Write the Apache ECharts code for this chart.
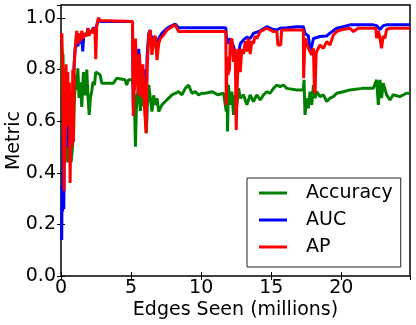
<!DOCTYPE html>
<html><head><meta charset="utf-8">
<script src="https://cdn.jsdelivr.net/npm/echarts@6/dist/echarts.min.js"></script>
<style>html,body{margin:0;padding:0;background:#fff}#c{width:416px;height:325px}</style>
</head><body><div id="c"></div>
<script>
const seriesNames = ['Accuracy', 'AUC', 'AP'];
const xTicks = [0, 5, 10, 15, 20];
const yTicks = [0.0, 0.2, 0.4, 0.6, 0.8, 1.0];

const accuracyData = [[0.02,0.80],[0.06,0.88],[0.10,0.70],[0.14,0.86],[0.20,0.66],[0.26,0.55],[0.35,0.47],[0.42,0.60],[0.49,0.44],[0.58,0.55],[0.65,0.60],[0.72,0.44],[0.82,0.50],[0.89,0.55],[0.94,0.66],[1.01,0.74],[1.08,0.78],[1.13,0.72],[1.20,0.805],[1.29,0.69],[1.39,0.75],[1.48,0.655],[1.60,0.79],[1.72,0.70],[1.84,0.80],[1.91,0.71],[2.01,0.624],[2.10,0.69],[2.20,0.72],[2.29,0.753],[2.39,0.74],[2.48,0.79],[2.62,0.79],[2.79,0.78],[2.91,0.747],[3.26,0.747],[3.74,0.747],[3.97,0.766],[4.10,0.76],[4.57,0.76],[4.69,0.74],[4.81,0.76],[5.09,0.76],[5.16,0.73],[5.23,0.70],[5.31,0.501],[5.38,0.65],[5.43,0.69],[5.54,0.74],[5.66,0.64],[5.78,0.70],[5.90,0.66],[6.02,0.75],[6.09,0.553],[6.20,0.72],[6.26,0.74],[6.37,0.69],[6.49,0.637],[6.61,0.70],[6.73,0.663],[6.85,0.689],[6.97,0.637],[7.20,0.663],[7.44,0.676],[7.68,0.689],[7.92,0.702],[8.15,0.708],[8.39,0.714],[8.63,0.702],[8.87,0.727],[9.10,0.74],[9.34,0.708],[9.58,0.714],[9.82,0.702],[10.05,0.708],[10.29,0.708],[10.8,0.714],[11.2,0.702],[11.6,0.708],[11.79,0.637],[11.84,0.75],[11.88,0.56],[11.95,0.74],[12.07,0.663],[12.19,0.714],[12.31,0.624],[12.43,0.702],[12.55,0.663],[12.67,0.727],[12.79,0.689],[13.02,0.702],[13.26,0.663],[13.50,0.702],[13.73,0.676],[13.97,0.702],[14.21,0.682],[14.45,0.702],[14.68,0.714],[14.92,0.708],[15.16,0.727],[15.40,0.740],[15.63,0.734],[15.87,0.740],[16.11,0.727],[16.82,0.721],[17.29,0.721],[17.34,0.76],[17.41,0.624],[17.53,0.689],[17.65,0.65],[17.77,0.714],[17.89,0.663],[18.01,0.74],[18.13,0.689],[18.24,0.714],[18.48,0.695],[18.72,0.702],[18.96,0.676],[19.19,0.689],[19.43,0.695],[19.67,0.708],[20.14,0.714],[20.62,0.721],[21.5,0.727],[22.28,0.727],[22.52,0.76],[22.64,0.663],[22.76,0.76],[22.87,0.689],[22.99,0.747],[23.23,0.702],[23.47,0.682],[23.70,0.702],[24.18,0.695],[24.65,0.708],[24.89,0.708]];

const aucData = [[0.02,0.15],[0.05,0.14],[0.08,0.35],[0.12,0.25],[0.16,0.55],[0.20,0.26],[0.26,0.70],[0.32,0.50],[0.40,0.72],[0.48,0.60],[0.55,0.50],[0.62,0.70],[0.70,0.55],[0.78,0.60],[0.84,0.52],[0.90,0.78],[0.96,0.84],[1.01,0.88],[1.13,0.90],[1.20,0.89],[1.29,0.92],[1.39,0.90],[1.48,0.93],[1.55,0.87],[1.62,0.93],[1.72,0.94],[1.84,0.93],[1.91,0.96],[2.01,0.94],[2.20,0.95],[2.29,0.96],[2.48,0.96],[2.67,0.99],[2.91,0.986],[5.10,0.986],[5.16,0.65],[5.26,0.85],[5.43,0.80],[5.54,0.88],[5.66,0.80],[5.78,0.74],[5.90,0.80],[6.02,0.65],[6.07,0.60],[6.14,0.85],[6.26,0.94],[6.37,0.953],[6.49,0.88],[6.61,0.93],[6.85,0.87],[6.97,0.92],[7.20,0.94],[7.56,0.96],[7.92,0.97],[8.15,0.976],[8.39,0.962],[11.76,0.962],[11.79,0.93],[11.95,0.90],[12.07,0.92],[12.31,0.89],[12.50,0.84],[12.59,0.81],[12.67,0.86],[12.79,0.90],[13.02,0.915],[13.26,0.925],[13.50,0.92],[13.73,0.94],[13.97,0.945],[14.21,0.95],[14.68,0.966],[15.16,0.955],[15.40,0.953],[15.63,0.96],[16.11,0.962],[16.82,0.966],[17.29,0.966],[17.41,0.94],[17.65,0.93],[17.77,0.87],[17.89,0.89],[18.01,0.92],[18.13,0.921],[18.48,0.928],[18.96,0.93],[19.19,0.941],[19.67,0.96],[20.14,0.966],[20.62,0.973],[22.28,0.973],[22.52,0.97],[22.76,0.955],[22.99,0.97],[23.23,0.973],[24.89,0.973]];

const apData = [[0.02,0.93],[0.06,0.94],[0.12,0.80],[0.18,0.55],[0.22,0.33],[0.26,0.72],[0.30,0.44],[0.36,0.82],[0.42,0.62],[0.48,0.79],[0.54,0.58],[0.60,0.75],[0.65,0.36],[0.72,0.66],[0.78,0.50],[0.84,0.80],[0.89,0.52],[0.94,0.82],[1.01,0.88],[1.06,0.92],[1.13,0.95],[1.20,0.90],[1.29,0.94],[1.39,0.91],[1.48,0.95],[1.60,0.92],[1.72,0.94],[1.84,0.93],[1.91,0.96],[2.01,0.93],[2.10,0.95],[2.20,0.94],[2.29,0.96],[2.42,0.95],[2.48,0.84],[2.55,0.97],[2.67,1.0],[2.79,0.99],[2.91,0.986],[5.10,0.986],[5.16,0.62],[5.21,0.85],[5.26,0.72],[5.31,0.92],[5.40,0.80],[5.54,0.70],[5.60,0.86],[5.66,0.74],[5.78,0.69],[5.84,0.82],[5.90,0.75],[5.96,0.65],[6.07,0.553],[6.14,0.80],[6.26,0.934],[6.37,0.953],[6.49,0.857],[6.61,0.92],[6.73,0.93],[6.85,0.837],[6.97,0.90],[7.09,0.92],[7.32,0.934],[7.56,0.953],[7.92,0.966],[8.15,0.973],[8.39,0.947],[11.76,0.947],[11.79,0.663],[11.84,0.85],[11.90,0.78],[12.02,0.80],[12.07,0.90],[12.19,0.92],[12.31,0.83],[12.43,0.88],[12.50,0.566],[12.58,0.75],[12.67,0.88],[12.79,0.79],[12.90,0.88],[13.02,0.86],[13.15,0.91],[13.26,0.87],[13.38,0.92],[13.50,0.86],[13.62,0.91],[13.73,0.90],[13.85,0.93],[13.97,0.92],[14.21,0.947],[14.68,0.96],[15.16,0.947],[15.40,0.947],[15.48,0.895],[15.68,0.895],[15.74,0.953],[17.29,0.953],[17.31,0.766],[17.41,0.921],[17.53,0.90],[17.65,0.882],[17.77,0.87],[17.89,0.857],[18.01,0.882],[18.08,0.72],[18.13,0.708],[18.20,0.857],[18.24,0.87],[18.48,0.895],[18.72,0.882],[18.96,0.908],[19.19,0.895],[19.43,0.934],[19.67,0.947],[19.91,0.953],[20.62,0.96],[20.86,0.947],[21.2,0.96],[22.46,0.96],[22.52,0.921],[22.64,0.95],[22.76,0.92],[22.87,0.882],[22.99,0.93],[23.11,0.921],[23.23,0.955],[23.47,0.96],[24.89,0.96]];

const colors = ['#008000', '#0000ff', '#ff0000'];
const FONT = 'DejaVu Sans';
const FS = 19;

const chart = echarts.init(document.getElementById('c'), null, {renderer: 'canvas'});
const isTick = (v, list) => list.some(t => Math.abs(t - v) < 1e-6);

const tickCommon = {show: true, inside: true, length: 4, lineStyle: {color: '#000', width: 1}};

chart.setOption({
  animation: false,
  backgroundColor: '#fff',
  grid: {left: 61, right: 6, top: 5, bottom: 49, containLabel: false, outerBoundsMode: 'none', show: true, borderColor: '#000', borderWidth: 1.5, backgroundColor: 'transparent'},
  textStyle: {fontFamily: FONT},
  legend: {
    data: seriesNames.map(n => ({name: n, icon: 'rect'})),
    orient: 'vertical',
    left: 247, top: 178,
    padding: [5, 8, 10, 12],
    itemWidth: 28, itemHeight: 3, itemGap: 7,
    borderColor: '#222', borderWidth: 1,
    backgroundColor: '#fff',
    textStyle: {fontFamily: FONT, fontSize: FS, color: '#000', padding: [0, 0, 0, 14], lineHeight: 20},
    selectedMode: false
  },
  xAxis: [{
    type: 'value', min: 0, max: 24.9, interval: 5,
    name: 'Edges Seen (millions)', nameLocation: 'middle', nameGap: 25, nameMoveOverlap: false,
    nameTextStyle: {fontFamily: FONT, fontSize: FS, color: '#000'},
    axisLine: {show: false},
    axisTick: tickCommon,
    splitLine: {show: false},
    axisLabel: {fontFamily: FONT, fontSize: FS, color: '#000', margin: 3, showMaxLabel: false,
      formatter: v => isTick(v, xTicks) ? String(v) : ''}
  }, {
    type: 'value', min: 0, max: 24.9, interval: 5, position: 'top',
    axisLine: {show: false}, axisTick: tickCommon, axisLabel: {show: false}, splitLine: {show: false}
  }],
  yAxis: [{
    type: 'value', min: 0, max: 1.05, interval: 0.2,
    name: 'Metric', nameLocation: 'middle', nameGap: 37, nameMoveOverlap: false,
    nameTextStyle: {fontFamily: FONT, fontSize: FS, color: '#000'},
    axisLine: {show: false},
    axisTick: tickCommon,
    splitLine: {show: false},
    axisLabel: {fontFamily: FONT, fontSize: FS, color: '#000', margin: 5, showMaxLabel: false,
      formatter: v => isTick(v, yTicks) ? v.toFixed(1) : ''}
  }, {
    type: 'value', min: 0, max: 1.05, interval: 0.2, position: 'right',
    axisLine: {show: false}, axisTick: tickCommon, axisLabel: {show: false}, splitLine: {show: false}
  }],
  series: [
    {name: seriesNames[0], type: 'line', data: accuracyData, showSymbol: false, symbol: 'none', lineStyle: {color: colors[0], width: 3}, itemStyle: {color: colors[0]}, z: 2},
    {name: seriesNames[1], type: 'line', data: aucData, showSymbol: false, symbol: 'none', lineStyle: {color: colors[1], width: 3}, itemStyle: {color: colors[1]}, z: 3},
    {name: seriesNames[2], type: 'line', data: apData, showSymbol: false, symbol: 'none', lineStyle: {color: colors[2], width: 3}, itemStyle: {color: colors[2]}, z: 4}
  ]
});
</script>
</body></html>
